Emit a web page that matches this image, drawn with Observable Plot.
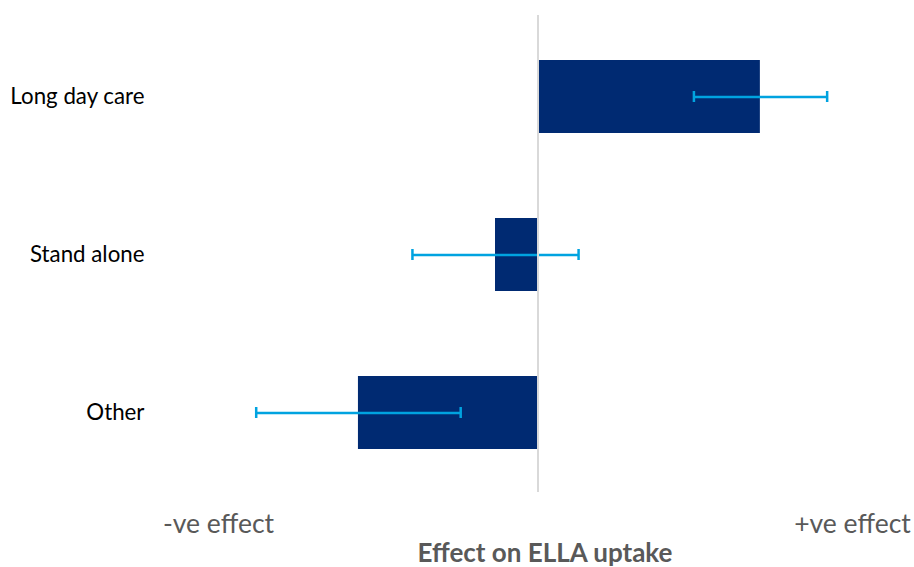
<!DOCTYPE html>
<html><head><meta charset="utf-8">
<script src="https://cdn.jsdelivr.net/npm/d3@7"></script>
<script src="https://cdn.jsdelivr.net/npm/@observablehq/plot@0.6"></script>
<style>body{margin:0;background:#fff;}</style>
</head><body><div id="chart"></div>
<script>
const categories = ["Long day care", "Stand alone", "Other"];
const effects = [0.696, -0.133, -0.562];
const lower = [0.488, -0.393, -0.882];
const upper = [0.905, 0.127, -0.242];
const axisTicks = [-1, 1];
const axisTickLabels = ["-ve effect", "+ve effect"];
const axisTitle = "Effect on ELLA uptake";

const data = categories.map((c, i) => ({category: c, effect: effects[i], lo: lower[i], hi: upper[i]}));
const errColor = "#00a3e0";
const fmt = d => axisTickLabels[axisTicks.indexOf(d)];

const chart = Plot.plot({
  width: 914, height: 567,
  marginTop: 17, marginBottom: 75, marginLeft: 218, marginRight: 57,
  style: {fontFamily: "Lato, sans-serif", background: "#fff", overflow: "visible"},
  x: {domain: [-1, 1], axis: null},
  y: {domain: categories, paddingInner: 0.535, paddingOuter: 0.2675, align: 0.5, axis: null},
  marks: [
    Plot.barX(data, {x: "effect", y: "category", fill: "#002a72"}),
    Plot.ruleY(data, {y: "category", x1: "lo", x2: "hi", stroke: errColor, strokeWidth: 2.5}),
    Plot.tickX(data, {x: "lo", y: "category", stroke: errColor, strokeWidth: 2.5, insetTop: 31, insetBottom: 31}),
    Plot.tickX(data, {x: "hi", y: "category", stroke: errColor, strokeWidth: 2.5, insetTop: 31, insetBottom: 31}),
    Plot.ruleX([0], {stroke: "#d9d9d9", strokeWidth: 2, insetTop: -2}),
    Plot.axisY({tickSize: 0, tickPadding: 74, fontSize: 22.3, color: "#000", label: null}),
    Plot.axisX({ticks: [axisTicks[0]], tickFormat: fmt, tickSize: 0, tickPadding: 22, fontSize: 26.5, color: "#595959", label: null}),
    Plot.axisX({ticks: [axisTicks[1]], tickFormat: fmt, tickSize: 0, tickPadding: 22, fontSize: 26.5, dx: -5, color: "#595959", label: null}),
    Plot.text([axisTitle], {text: d => d, frameAnchor: "bottom", lineAnchor: "middle", dy: 61, dx: 7, fontSize: 26, fontWeight: "bold", fill: "#595959"})
  ]
});
document.getElementById("chart").appendChild(chart);
</script>
</body></html>
